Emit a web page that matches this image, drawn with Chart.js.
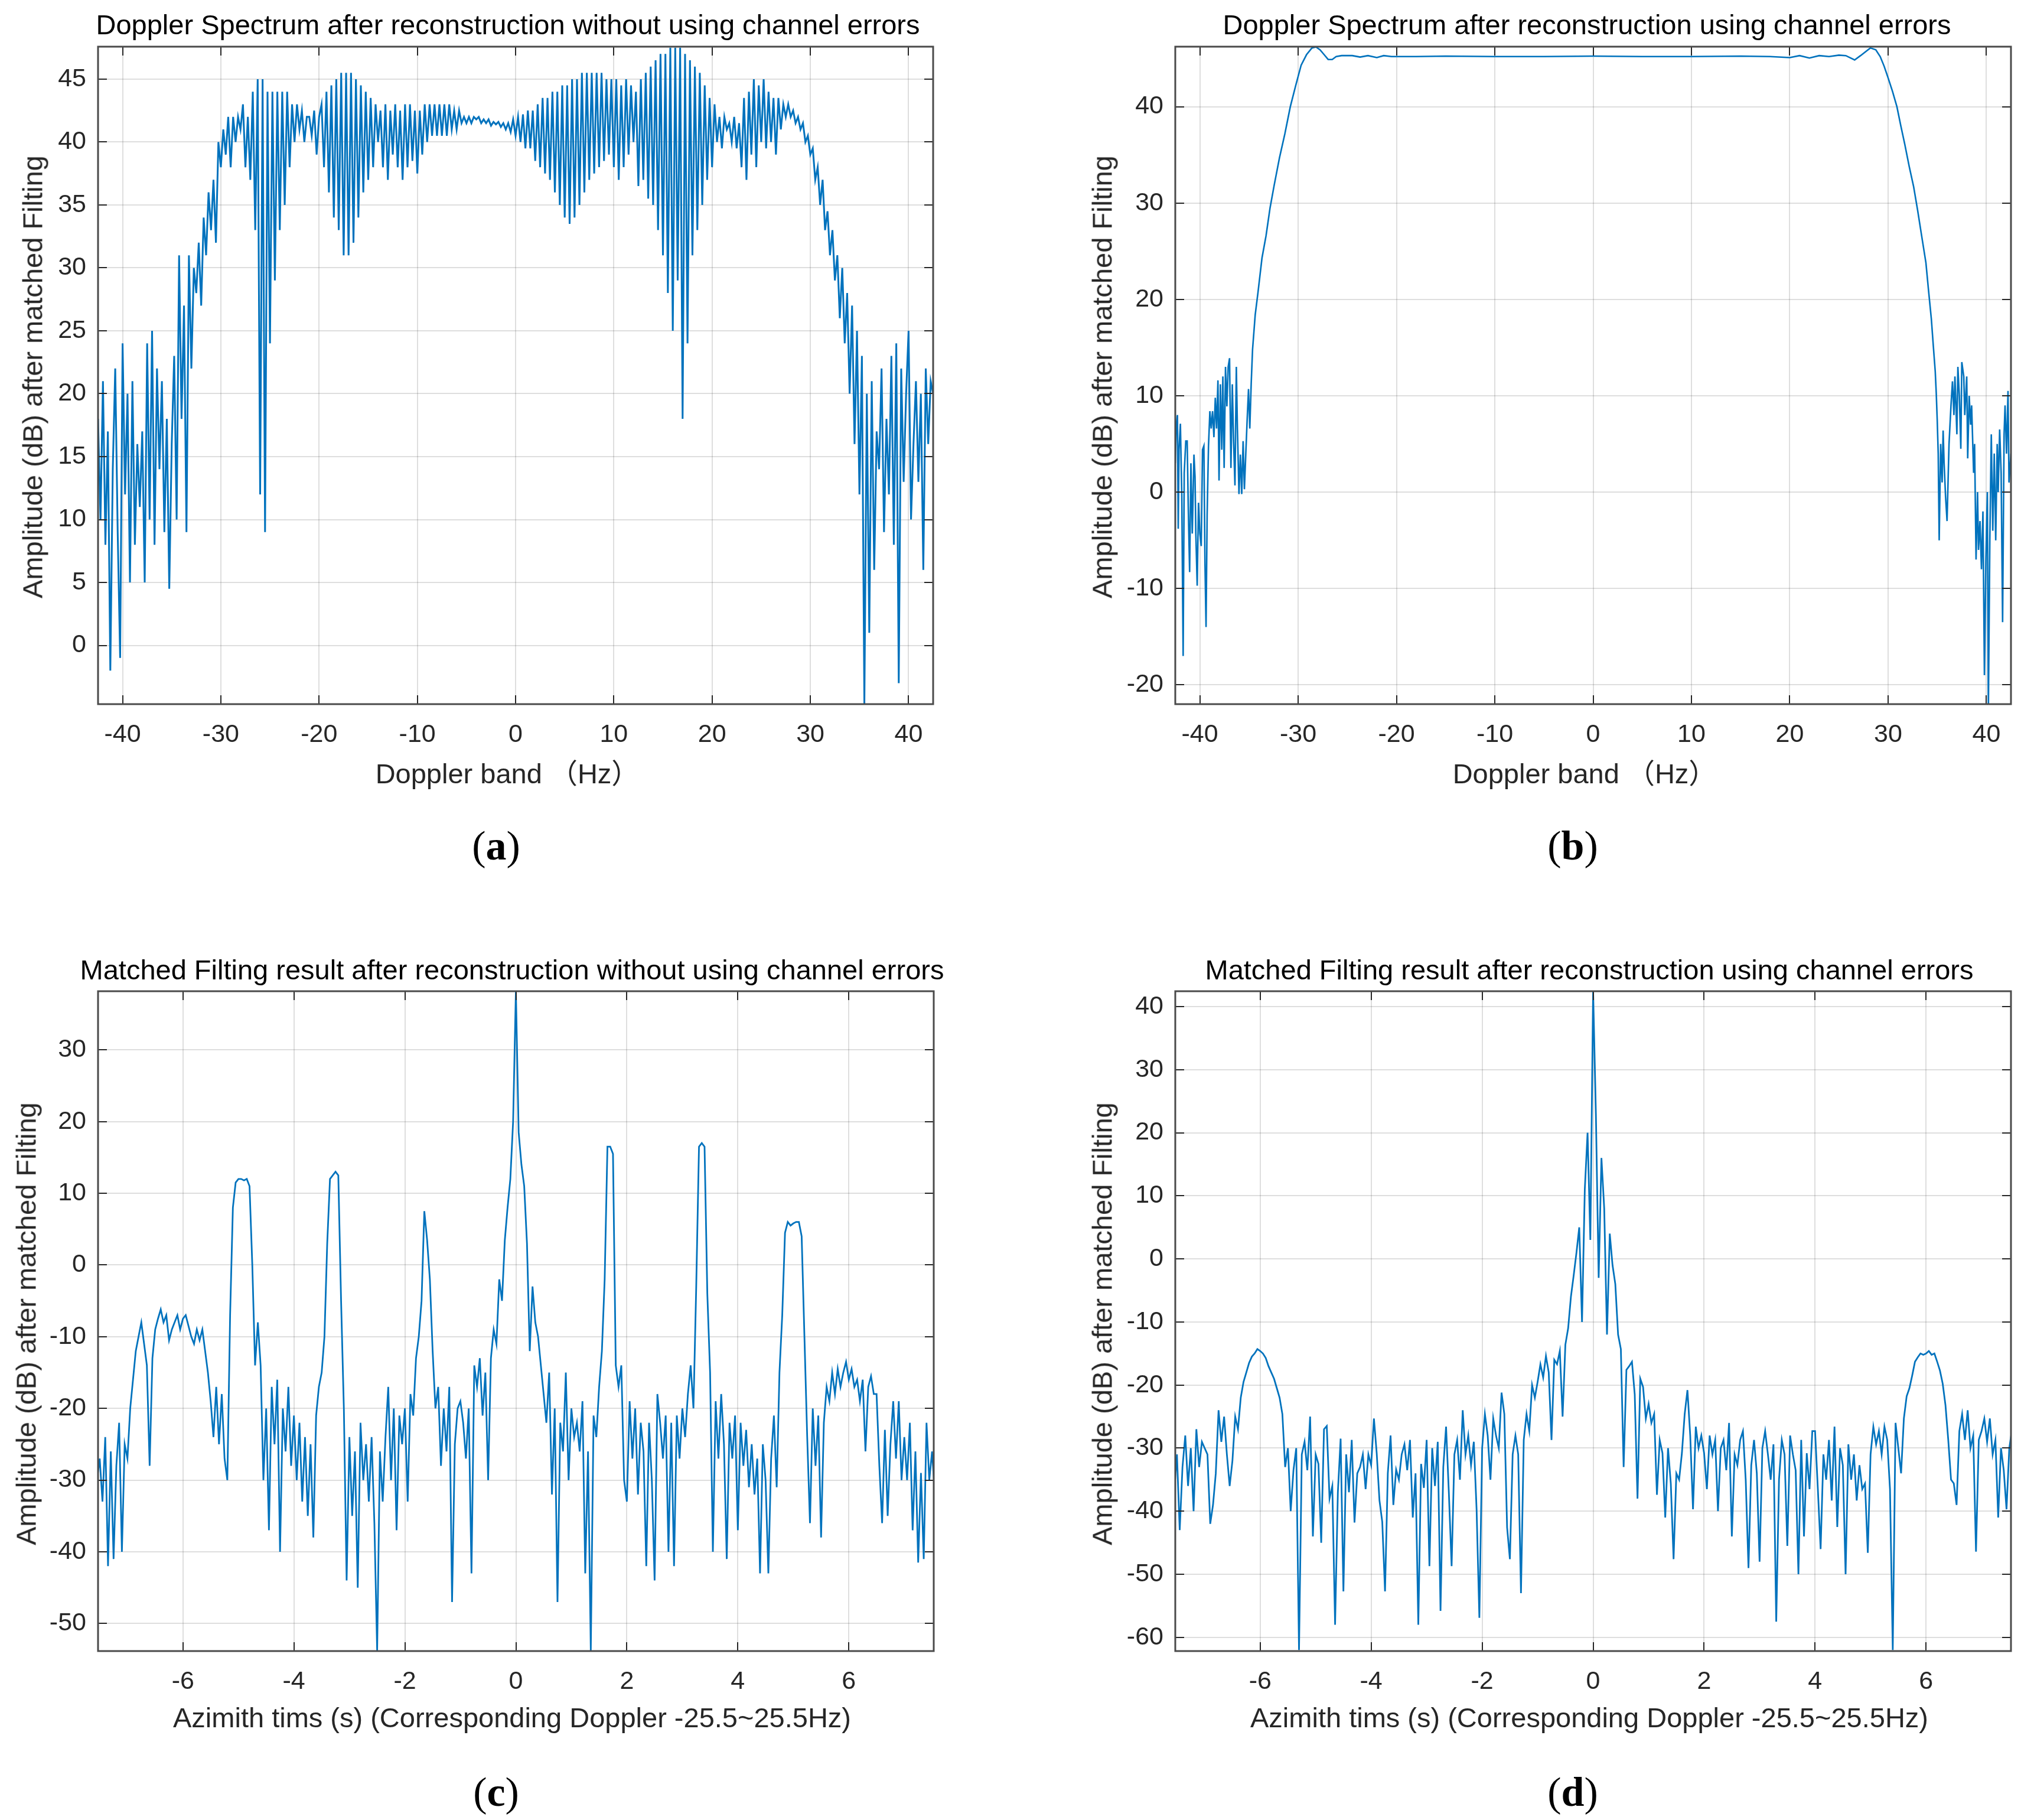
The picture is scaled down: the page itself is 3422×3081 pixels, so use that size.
<!DOCTYPE html>
<html>
<head>
<meta charset="utf-8">
<script src="https://cdn.jsdelivr.net/npm/chart.js@4.4.1/dist/chart.umd.min.js"></script>
<style>
body { margin: 0; background: #fff; width: 3422px; height: 3081px; position: relative; overflow: hidden;
       font-family: "Liberation Sans", Arial, "Noto Sans CJK SC", sans-serif; }
.txt { position: absolute; transform: translate(-50%, -50%); white-space: nowrap; color: #000; font-size: 47px; }
.ylab { transform: translate(-50%, -50%) rotate(-90deg); color: #262626; }
.xlab { color: #262626; }
.cap { font-family: "Liberation Serif", "DejaVu Serif", serif; font-size: 70px; }
</style>
</head>
<body>
<script>
// ---- data ----

// (a) Doppler spectrum, no channel errors: 341 samples, -42.5 .. 42.5 Hz every 0.25 Hz
const aFreqRange = [-42.5, 42.5];
const aAmp = [
  18, 10,
  21, 8, 17, -2,      14, 22, 9, -1,      24, 12, 20, 5,      21, 8, 16, 11,
  17, 5, 24, 10,      25, 8, 22, 14,      21, 9, 18, 4.5,     16, 23, 10, 31,
  18, 27, 9, 31,      22, 30, 28, 32,     27, 34, 31, 36,     33, 37, 32, 40,
  38, 41, 39, 42,     38, 42, 40, 42,     41, 43, 38, 42,     37, 44, 33, 45,
  12, 45, 9, 44,      24, 44, 29, 44,     33, 44, 35, 44,     38, 43, 40, 43,
  41, 42.5, 40, 42,   42, 40.5, 42.5, 39, 42, 43, 38, 44,     36, 44.5, 34, 45,
  33, 45.5, 31, 45.5, 31, 45.5, 32, 45,   34, 44.5, 36, 44,   37, 43.5, 38, 43,
  40, 42.5, 38, 43,   37, 42.5, 39, 43,   38, 42.5, 37, 43,   38, 43, 38.5, 42.5,
  37.5, 42.5, 39, 43, 40, 43, 40.5, 43,   40.5, 43, 40.5, 43, 40.5, 43, 41, 42.5,
  41, 42.5, 41.5, 42, 41.5, 42, 41.5, 42, 41.8, 42, 41.5, 41.8, 41.5, 41.8, 41.3, 41.6,
  41.4, 41.6, 41.2, 41.5, 41, 41.5, 40.8, 41.8,
  40.5, 42, 40, 42.2, 39.5, 42.5, 39.5, 42.5, 38.5, 43, 38, 43.5, 37.5, 43.5, 37, 44,
  36, 44, 35, 44.5,   34, 44.5, 33.5, 45, 34, 45, 35, 45.5,   36, 45.5, 37, 45.5,
  37.5, 45.5, 38, 45.5, 38.5, 45, 39, 45, 38, 45, 37, 44.5,  38, 45, 39, 44.5,
  40, 44, 36.5, 45,   37, 45.5, 35.5, 46, 35, 46.5, 33, 47,   31, 47, 28, 47.5,
  25, 47.5, 29, 47.5, 18, 47, 24, 46.5,   31, 46, 33, 45.5,   35, 44.5, 37, 43.5,
  38, 43, 40, 42,     39.5, 42, 41, 41.5, 40, 42, 39.5, 41.5, 38, 43.5, 37, 44,
  39, 45, 38, 44.5,   40, 45, 39.5, 44,   40, 43.5, 39, 43.5, 41, 43, 42, 43,
  42, 42.5, 41.5, 42, 41, 41.5, 40, 40.5, 39, 39.5, 37, 38,   35, 37, 33, 34.5,
  31, 33, 29, 31,     26, 30, 24, 28,     20, 27, 16, 25,     12, 23, -4.7, 20,
  1, 21, 6, 17,       14, 22, 9, 18,      12, 23, 8, 24,      -3, 22, 13, 20,
  25, 10, 16, 21,     13, 20, 6, 22,
  16, 21, 20
];

// (b) Doppler spectrum using channel errors: irregular samples (Hz, dB)
const bFreq = [
  -42.5, -42.4, -42.28, -42.2, -42.12, -41.98, -41.84, -41.7, -41.59, -41.43,
  -41.29, -41.18, -41.04, -40.91, -40.77, -40.6, -40.49, -40.41, -40.27, -40.14,
  -40.0, -39.86, -39.73, -39.59, -39.48, -39.37, -39.26, -39.12, -38.98, -38.85,
  -38.71, -38.57, -38.43, -38.3, -38.16, -38.05, -37.91, -37.77, -37.66, -37.53,
  -37.39, -37.25, -37.12, -36.98, -36.84, -36.7, -36.57, -36.43, -36.29, -36.18,
  -36.02, -35.88, -35.74, -35.6, -35.47, -35.33, -35.19, -35.05, -34.92, -34.78,
  -34.64, -34.37, -34.09, -33.68, -33.27, -32.86, -32.45, -31.9, -31.35, -30.8,
  -30.25, -29.7, -29.15, -28.6, -28.19, -27.77, -27.36, -26.95, -26.54, -26.13,
  -25.58, -24.5, -23.7, -22.9, -22.0, -21.3, -20.5, -18, -15, -10,
  -5, 0, 5, 10, 15, 18, 20, 21, 22, 23,
  24, 25, 25.7, 26.6, 27.2, 28.2, 28.75, 29.2, 29.6, 30.0,
  30.45, 30.9, 31.3, 31.7, 32.15, 32.6, 33.0, 33.4, 33.85, 34.1,
  34.4, 34.6, 34.8, 34.9, 35.0, 35.1, 35.2, 35.35, 35.5, 35.6,
  35.7, 35.85, 36.0, 36.2, 36.4, 36.55, 36.7, 36.8, 37.0, 37.1,
  37.25, 37.4, 37.5, 37.7, 37.8, 38.0, 38.1, 38.25, 38.4, 38.5,
  38.7, 38.8, 38.95, 39.1, 39.2, 39.35, 39.5, 39.65, 39.8, 39.95,
  40.1, 40.2, 40.35, 40.5, 40.65, 40.8, 40.95, 41.1, 41.2, 41.35,
  41.5, 41.65, 41.8, 41.9, 42.05, 42.2, 42.3, 42.5
];
const bAmp = [
  3, 7, 8, -3.8, 4.4, 7.1, -0.2, -17, 2, 5.3,
  5.3, -1.5, -8.3, 3, -4.3, 3.9, 1.6, -4.3, -9.7, -1.1,
  -4.3, -5.6, 4.4, 4.8, -7.4, -14, -2.4, 4.8, 8.4, 6.6,
  8.4, 5.7, 9.8, 6.6, 11.6, 1.2, 11.2, 4.4, 12, 2.5,
  13, 8.9, 13, 13.9, 2.5, 11.2, 5.3, 0.7, 13, 6.6,
  -0.2, 3.9, -0.2, 5.3, 0.3, 3.9, 7.5, 10.7, 6.6, 11.2,
  14.8, 18.4, 20.7, 24.3, 26.6, 29.5, 31.8, 34.7, 37.2, 40,
  42.2, 44.3, 45.4, 46.1, 46.2, 45.9, 45.4, 44.9, 44.9, 45.2,
  45.3, 45.3, 45.15, 45.3, 45.1, 45.3, 45.2, 45.2, 45.25, 45.2,
  45.2, 45.25, 45.2, 45.2, 45.25, 45.2, 45.1, 45.3, 45.05, 45.3,
  45.2, 45.35, 45.3, 44.85, 45.3, 46.1, 45.9, 45.2, 44.2, 43.0,
  41.6, 40, 38, 36.1, 33.8, 31.7, 29.3, 26.7, 23.8, 21.1,
  18, 15.2, 12.5, 10.3, 7.5, 4, -5, 5, 1, 6.4,
  3, -0.5, -3, 5, 9, 11.5, 8, 12, 6, 13,
  10, 4.5, 13.5, 12, 8, 12, 3.5, 10, 7, 9,
  2, 5, -7, 0, -6, -3, -8, -2, -19, -7,
  0, -23, -5, 6, -4, 4, -5, 5, 0, 6.5,
  2, -13.5, 6, 9, 4, 10.5, 1, 4
];

// (c), (d) matched filtering output: 303 samples, -7.55 .. 7.55 s every 0.05 s
const timeRange = [-7.55, 7.55];
const cAmp = [
  -30,
  -27, -33, -24, -42, -26, -41, -28, -22, -40, -25,
  -27, -20, -16, -12, -10, -8, -11, -14, -28, -13,
  -9, -7.5, -6.2, -8, -7, -10.5, -9, -8, -7, -9,
  -7.5, -7, -8.5, -10, -11, -9, -10.5, -9, -12, -15,
  -19, -24, -17, -25, -18, -27, -30, -7, 8, 11.5,
  12, 12, 11.8, 12, 11, 0, -14, -8, -14, -30,
  -20, -37, -17, -25, -16, -40, -20, -26, -17, -28,
  -21, -30, -22, -33, -24, -35, -25, -38, -21, -17,
  -15, -10, 3, 12, 12.5, 13, 12.5, -5, -20, -44,
  -24, -35, -26, -45, -22, -30, -25, -33, -24, -36,
  -53.8, -26, -33, -24, -17, -30, -20, -37, -21, -25,
  -20, -33, -18, -21, -13, -10, -5, 7.5, 3.5, -2,
  -12, -20, -17, -28, -20, -26, -17, -47, -25, -20,
  -19, -22, -27, -20, -43, -14, -17, -13, -21, -15,
  -30, -13, -9, -11, -2, -5, 3.4, 8, 12, 20,
  38.2, 18.5, 14, 11, 3, -12, -3, -8, -10, -14,
  -18, -22, -15, -32, -20, -47, -22, -26, -15, -30,
  -20, -24, -22, -26, -19, -43, -26, -53.8, -21, -24,
  -17, -12, -2, 16.5, 16.5, 15.5, -14, -17, -14, -30,
  -33, -19, -27, -20, -32, -22, -26, -42, -22, -30,
  -44, -18, -22, -27, -21, -40, -22, -42, -21, -27,
  -20, -24, -18, -14, -20, -3, 16.5, 17, 16.5, -4,
  -15, -40, -19, -27, -18, -25, -41, -22, -27, -21,
  -37, -22, -28, -23, -31, -25, -32, -27, -43, -25,
  -30, -43, -27, -21, -31, -15, -7, 4.5, 6, 5.5,
  5.8, 6, 6, 4, -10, -24, -36, -20, -28, -21,
  -38, -22, -17, -19, -15, -18, -14.5, -17, -15, -13.5,
  -16, -14.5, -17, -16, -19, -16, -26, -17, -15.5, -18,
  -18, -28, -36, -23, -35, -25, -19, -27, -19, -30,
  -24, -30, -22, -37, -26, -41.5, -29, -41, -22, -30,
  -26, -32
];
const dAmp = [
  -37,
  -31, -43, -33, -28, -36, -30, -40, -27, -33, -29,
  -30, -31, -42, -39, -34, -24, -29, -25, -31, -36,
  -32, -25, -27, -22, -19.5, -18, -16.5, -15.5, -15, -14.3,
  -14.6, -15, -15.7, -17, -18, -19, -20.5, -22, -24.6, -33,
  -30, -40, -33.5, -30, -62, -31, -29, -33.5, -25, -44,
  -31, -32.5, -45, -27, -26.5, -38, -36, -58, -37, -28.5,
  -52.7, -31, -37, -28.7, -41.8, -34, -33, -31, -36.5, -31,
  -32.7, -25.3, -30.8, -38.3, -41.7, -52.7, -34, -28, -39, -33.4,
  -35, -31, -29.4, -33.5, -28.7, -41, -34, -58, -32.5, -36.3,
  -28.7, -48.7, -30, -36, -29, -55.8, -33, -26.6, -37, -48.7,
  -31, -28.7, -35, -24, -31, -28, -32.7, -29, -39.7, -56.9,
  -30, -24.6, -28, -35, -25.3, -28, -30, -21.2, -24.6, -42.6,
  -47.6, -31, -28, -31, -53, -28.7, -24.6, -27.3, -20, -22,
  -19.5, -16.7, -18.8, -15.4, -18, -28.7, -16, -16.7, -14.6, -25,
  -13.6, -11, -6, -2.6, 1, 5, -10, 11, 20, 3,
  42.4, 23, -3, 16, 8, -12, 4, -1, -4, -12,
  -14.3, -33, -17.6, -17, -16.3, -21.5, -38, -19, -20.3, -25.3,
  -23, -26, -24.6, -37.4, -28.7, -30.8, -41, -30, -35.6, -47.6,
  -34, -35, -30.8, -24.6, -20.8, -28, -39.7, -26.6, -30, -28,
  -30.8, -36.5, -28, -31, -28.7, -40, -30, -28.7, -33.5, -26,
  -44, -31, -32.7, -28.7, -27.3, -35, -49, -32.7, -28.7, -34,
  -48, -30, -27.3, -31, -35, -29.4, -57.5, -35, -28.7, -31,
  -45.5, -28, -31, -33.5, -50, -28.7, -44, -30.8, -36.5, -27.3,
  -27.3, -36.5, -46, -31, -35, -28.7, -38.3, -26.6, -42.5, -30,
  -32.7, -50, -29.4, -35, -31, -38.3, -32.7, -36.5, -35.6, -46.6,
  -31, -26.6, -29.4, -27.3, -31, -26.6, -28.7, -36.5, -62, -26,
  -30, -34, -25.3, -21.8, -20.5, -18.5, -16.3, -15.6, -15, -15.2,
  -15, -14.6, -15.2, -15, -16.3, -17.7, -19.8, -23.2, -28.7, -35,
  -35.6, -39, -27.3, -24.6, -28.7, -24, -30, -28, -46.4, -28.7,
  -27.3, -25.3, -29, -25.3, -31, -28.7, -41, -30, -33.5, -39.7,
  -30, -27
];

// tick labels
const freqTicks = [-40, -30, -20, -10, 0, 10, 20, 30, 40];
const timeTicks = [-6, -4, -2, 0, 2, 4, 6];
const aAmpTicks = [0, 5, 10, 15, 20, 25, 30, 35, 40, 45];
const bAmpTicks = [-20, -10, 0, 10, 20, 30, 40];
const cAmpTicks = [-50, -40, -30, -20, -10, 0, 10, 20, 30];
const dAmpTicks = [-60, -50, -40, -30, -20, -10, 0, 10, 20, 30, 40];

const titles = [
  'Doppler Spectrum after reconstruction without using channel errors',
  'Doppler Spectrum after reconstruction using channel errors',
  'Matched Filting result after reconstruction without using channel errors',
  'Matched Filting result after reconstruction using channel errors'
];
const freqLabel = 'Doppler band \uFF08Hz\uFF09';
const timeLabel = 'Azimith tims (s) (Corresponding Doppler -25.5~25.5Hz)';
const ampLabel = 'Amplitude (dB) after matched Filting';

// ---- helpers ----

// x positions of an evenly sampled record
function sampleGrid(range, n) {
    const out = [];
    for (let i = 0; i < n; i++) out.push(range[0] + (range[1] - range[0]) * i / (n - 1));
    return out;
}

// MATLAB style box with inward ticks on all four sides
const boxTicks = {
    id: 'boxTicks',
    afterDatasetsDraw(chart) {
        const { ctx, chartArea: a, scales: { x, y } } = chart;
        const len = 15;
        ctx.save();
        ctx.strokeStyle = '#262626';
        ctx.lineWidth = 2;
        ctx.beginPath();
        x.ticks.forEach(t => {
            const px = Math.round(x.getPixelForValue(t.value));
            ctx.moveTo(px, a.bottom); ctx.lineTo(px, a.bottom - len);
            ctx.moveTo(px, a.top); ctx.lineTo(px, a.top + len);
        });
        y.ticks.forEach(t => {
            const py = Math.round(y.getPixelForValue(t.value));
            ctx.moveTo(a.left, py); ctx.lineTo(a.left + len, py);
            ctx.moveTo(a.right, py); ctx.lineTo(a.right - len, py);
        });
        ctx.stroke();
        ctx.strokeStyle = '#4a4a4a';
        ctx.lineWidth = 3;
        ctx.strokeRect(a.left, a.top, a.right - a.left, a.bottom - a.top);
        ctx.restore();
    }
};

function addText(cls, text, x, y) {
    const el = document.createElement('div');
    el.className = 'txt ' + cls;
    el.style.left = x + 'px';
    el.style.top = y + 'px';
    el.innerHTML = text;
    document.body.appendChild(el);
}

const tickFont = { family: '"Liberation Sans", Arial, sans-serif', size: 43 };
const gridStyle = { color: 'rgba(0,0,0,0.13)', lineWidth: 2, drawTicks: false };

// stop the scales from reserving room for half labels at the ends
function noEdgePadding(s) {
    s.paddingTop = 0; s.paddingBottom = 0; s.paddingLeft = 0; s.paddingRight = 0;
}

function drawPanel(p) {
    const [L, T, R, B] = p.box;
    const padL = 160, padT = 12, padR = 20, padB = 100;
    const w = R - L + padL + padR, h = B - T + padT + padB;
    const cv = document.createElement('canvas');
    cv.width = w; cv.height = h;
    cv.style.cssText = `position:absolute;left:${L - padL}px;top:${T - padT}px;width:${w}px;height:${h}px`;
    document.body.appendChild(cv);

    new Chart(cv, {
        type: 'line',
        data: {
            datasets: [{
                data: p.xs.map((x, i) => ({ x, y: p.ys[i] })),
                borderColor: '#0072bd',
                borderWidth: p.lineWidth,
                pointRadius: 0,
                tension: 0,
                fill: false
            }]
        },
        options: {
            responsive: false,
            animation: false,
            devicePixelRatio: 1,
            layout: { padding: { left: 0, top: padT, right: padR, bottom: 0 } },
            plugins: { legend: { display: false }, tooltip: { enabled: false }, title: { display: false } },
            scales: {
                x: {
                    type: 'linear', min: p.xRange[0], max: p.xRange[1],
                    afterBuildTicks: s => { s.ticks = p.xTicks.map(v => ({ value: v })); },
                    afterFit: s => { s.height = padB; noEdgePadding(s); },
                    grid: gridStyle, border: { display: false },
                    ticks: { autoSkip: false, maxRotation: 0, padding: 26, color: '#262626', font: tickFont,
                             callback: v => String(v) }
                },
                y: {
                    type: 'linear', min: p.yRange[0], max: p.yRange[1],
                    afterBuildTicks: s => { s.ticks = p.yTicks.map(v => ({ value: v })); },
                    afterFit: s => { s.width = padL; noEdgePadding(s); },
                    grid: gridStyle, border: { display: false },
                    ticks: { autoSkip: false, padding: 20, color: '#262626', font: tickFont,
                             callback: v => String(v) }
                }
            }
        },
        plugins: [boxTicks]
    });

    addText('', p.title, p.titlePos[0], p.titlePos[1]);
    addText('xlab', p.xLabel, p.xLabelPos[0], p.xLabelPos[1]);
    addText('ylab', ampLabel, p.yLabelPos[0], p.yLabelPos[1]);
    addText('cap', '(<b>' + p.tag + '</b>)', p.capPos[0], p.capPos[1]);
}

const panels = [
    { tag: 'a', box: [166, 79, 1580, 1192], xRange: [-42.5, 42.5], yRange: [-4.67, 47.58], lineWidth: 3,
      xs: sampleGrid(aFreqRange, aAmp.length), ys: aAmp, xTicks: freqTicks, yTicks: aAmpTicks,
      title: titles[0], xLabel: freqLabel,
      titlePos: [860, 41], xLabelPos: [859, 1305], yLabelPos: [55, 638], capPos: [840, 1432] },
    { tag: 'b', box: [1990, 79, 3405, 1192], xRange: [-42.5, 42.5], yRange: [-22.0, 46.23], lineWidth: 2.6,
      xs: bFreq, ys: bAmp, xTicks: freqTicks, yTicks: bAmpTicks,
      title: titles[1], xLabel: freqLabel,
      titlePos: [2687, 41], xLabelPos: [2683, 1305], yLabelPos: [1866, 638], capPos: [2663, 1432] },
    { tag: 'c', box: [166, 1678, 1581, 2795], xRange: [-7.53, 7.53], yRange: [-53.84, 38.18], lineWidth: 2.8,
      xs: sampleGrid(timeRange, cAmp.length), ys: cAmp, xTicks: timeTicks, yTicks: cAmpTicks,
      title: titles[2], xLabel: timeLabel,
      titlePos: [867, 1641], xLabelPos: [867, 2907], yLabelPos: [44, 2241], capPos: [840, 3034] },
    { tag: 'd', box: [1990, 1678, 3405, 2795], xRange: [-7.53, 7.53], yRange: [-62.17, 42.43], lineWidth: 2.8,
      xs: sampleGrid(timeRange, dAmp.length), ys: dAmp, xTicks: timeTicks, yTicks: dAmpTicks,
      title: titles[3], xLabel: timeLabel,
      titlePos: [2691, 1641], xLabelPos: [2691, 2907], yLabelPos: [1866, 2241], capPos: [2663, 3034] }
];

panels.forEach(drawPanel);
</script>
</body>
</html>
